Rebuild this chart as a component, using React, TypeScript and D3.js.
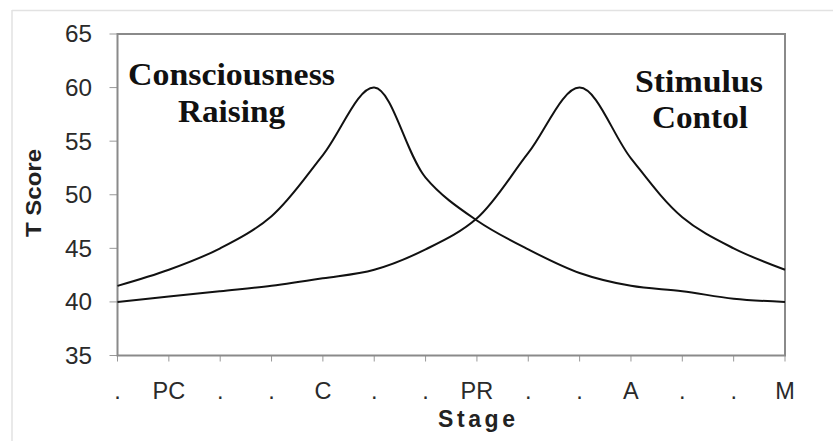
import React from 'react';
import * as d3 from 'd3';

// stage labels along the x axis (dots are unlabeled sub-steps)
const stages = ['.', 'PC', '.', '.', 'C', '.', '.', 'PR', '.', '.', 'A', '.', '.', 'M'];
const consciousness = [41.5, 43.0, 45.0, 48.0, 53.7, 60.0, 51.6, 47.6, 44.9, 42.7, 41.5, 41.0, 40.3, 40.0];
const stimulus = [40.0, 40.5, 41.0, 41.5, 42.2, 43.0, 44.9, 47.8, 53.9, 60.0, 53.4, 47.9, 45.0, 43.0];
const yTicks = [35, 40, 45, 50, 55, 60, 65];

const W = 833;
const H = 441;
const plot = { left: 117.5, right: 785, top: 34, bottom: 355.5 };

const App: React.FC = () => {
  const x = d3.scalePoint<number>()
    .domain(d3.range(stages.length))
    .range([plot.left, plot.right]);
  const y = d3.scaleLinear().domain([35, 65]).range([plot.bottom, plot.top]);

  const line = d3.line<number>()
    .x((_, i) => x(i) as number)
    .y(d => y(d))
    .curve(d3.curveCatmullRom.alpha(0.5));

  const sans = '"Liberation Sans", Arial, sans-serif';
  const serif = '"Liberation Serif", "Times New Roman", serif';

  return (
    <svg width={W} height={H} style={{ position: 'absolute', left: 0, top: 0, background: '#fff' }}>
      {/* faint outer frame */}
      <line x1={12} y1={10.5} x2={W} y2={10.5} stroke="#e2e2e2" strokeWidth={1.5} />
      <line x1={12} y1={10} x2={12} y2={H} stroke="#e2e2e2" strokeWidth={1.5} />

      {/* y ticks and labels */}
      {yTicks.map(t => (
        <g key={t}>
          <line x1={plot.left - 8} x2={plot.left} y1={y(t)} y2={y(t)} stroke="#999" strokeWidth={1} />
          <text x={92} y={y(t)} dy="0.36em" textAnchor="end" fontFamily={sans} fontSize={23.5}
            textLength={27} lengthAdjust="spacingAndGlyphs" fill="#2a2a2a">{t}</text>
        </g>
      ))}

      {/* x ticks and labels */}
      {stages.map((s, i) => (
        <g key={i}>
          <line x1={x(i)} x2={x(i)} y1={plot.bottom} y2={plot.bottom + 6} stroke="#999" strokeWidth={1} />
          <text x={x(i)} y={399} textAnchor="middle" fontFamily={sans} fontSize={23.5} fill="#2a2a2a">{s}</text>
        </g>
      ))}

      {/* plot border */}
      <rect x={plot.left} y={plot.top} width={plot.right - plot.left} height={plot.bottom - plot.top}
        fill="none" stroke="#8a8a8a" strokeWidth={2} />

      {/* curves */}
      <path d={line(consciousness) || ''} fill="none" stroke="#111" strokeWidth={2} />
      <path d={line(stimulus) || ''} fill="none" stroke="#111" strokeWidth={2} />

      {/* axis titles */}
      <text x={476.5} y={426.5} textAnchor="middle" fontFamily={sans} fontWeight="bold" fontSize={23}
        textLength={77} lengthAdjust="spacing" fill="#222">Stage</text>
      <text transform="translate(41,193) rotate(-90)" textAnchor="middle" fontFamily={sans} fontWeight="bold"
        fontSize={21.5} textLength={88} lengthAdjust="spacingAndGlyphs" fill="#222">T Score</text>

      {/* curve annotations */}
      <text x={231.5} y={85} textAnchor="middle" fontFamily={serif} fontWeight="bold" fontSize={31}
        textLength={207} lengthAdjust="spacingAndGlyphs" fill="#111">Consciousness</text>
      <text x={231.5} y={121.5} textAnchor="middle" fontFamily={serif} fontWeight="bold" fontSize={31}
        textLength={107} lengthAdjust="spacingAndGlyphs" fill="#111">Raising</text>
      <text x={699} y={91.5} textAnchor="middle" fontFamily={serif} fontWeight="bold" fontSize={31}
        textLength={128} lengthAdjust="spacingAndGlyphs" fill="#111">Stimulus</text>
      <text x={700} y={128} textAnchor="middle" fontFamily={serif} fontWeight="bold" fontSize={31}
        textLength={96} lengthAdjust="spacingAndGlyphs" fill="#111">Contol</text>
    </svg>
  );
};

export default App;
